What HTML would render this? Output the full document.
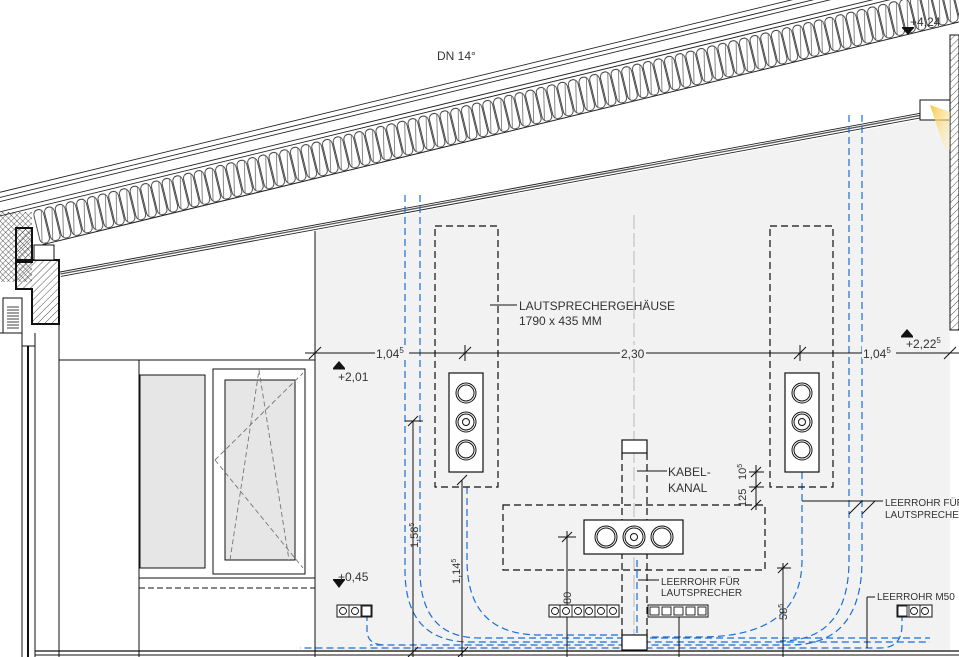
<!DOCTYPE html>
<html><head><meta charset="utf-8"><style>
html,body{margin:0;padding:0;background:#fff;}
svg{display:block;}
text{font-family:"Liberation Sans",sans-serif;fill:#333;}
</style></head><body>
<svg width="959" height="657" viewBox="0 0 959 657" xmlns="http://www.w3.org/2000/svg">
<defs>
<pattern id="ins" width="11" height="36" patternUnits="userSpaceOnUse">
<rect x="0.6" y="0.8" width="9.8" height="34.4" rx="4.9" fill="none" stroke="#222" stroke-width="0.8"/>
<line x1="2" y1="34" x2="9" y2="2" stroke="#555" stroke-width="0.7"/>
</pattern>
<pattern id="hat" width="5" height="5" patternUnits="userSpaceOnUse" patternTransform="rotate(45)">
<line x1="0" y1="0" x2="0" y2="5" stroke="#222" stroke-width="0.8"/>
</pattern>
<pattern id="cross" width="4" height="4" patternUnits="userSpaceOnUse" patternTransform="rotate(45)">
<path d="M0,0V4M0,0H4" stroke="#222" stroke-width="0.7"/>
</pattern>
<linearGradient id="lg" x1="0" y1="0" x2="1" y2="1"><stop offset="0" stop-color="#f7c843"/><stop offset="1" stop-color="#fff3c8" stop-opacity="0.3"/></linearGradient>
</defs>

<polygon points="315,231 930,118 950,114 950,652 315,652" fill="#f2f2f2"/>

<g transform="translate(0,218) rotate(-13.66)">
<line x1="-10" y1="-25" x2="1100" y2="-25" stroke="#222" stroke-width="0.9"/>
<line x1="-10" y1="-20" x2="1100" y2="-20" stroke="#222" stroke-width="0.9"/>
<line x1="-10" y1="-16" x2="1100" y2="-16" stroke="#222" stroke-width="0.9"/>
<line x1="-10" y1="-6" x2="1100" y2="-6" stroke="#222" stroke-width="0.9"/>
<line x1="-10" y1="-2" x2="1100" y2="-2" stroke="#222" stroke-width="0.9"/>
<rect x="33" y="0" width="1000" height="36" fill="url(#ins)"/>
<line x1="33" y1="36" x2="1100" y2="36" stroke="#222" stroke-width="1"/>
</g>
<g transform="translate(60,272) rotate(-10.45)">
<line x1="0" y1="0" x2="885" y2="0" stroke="#222" stroke-width="0.9"/>
<line x1="0" y1="2" x2="885" y2="2" stroke="#555" stroke-width="1.3"/>
<line x1="0" y1="4.5" x2="885" y2="4.5" stroke="#222" stroke-width="0.9"/>
</g>

<rect x="0" y="212" width="32" height="70" fill="url(#cross)"/>
<polygon points="16,228 32,228 32,262 16,262" fill="url(#hat)" stroke="#111" stroke-width="2"/>
<polygon points="16,260 59,260 59,324 32,324 32,289 16,289" fill="url(#hat)" stroke="#111" stroke-width="2"/>
<rect x="34" y="245" width="20" height="15" fill="#fff" stroke="#111" stroke-width="1"/>
<rect x="3" y="298" width="19" height="35" fill="#fff" stroke="#111" stroke-width="1"/>
<g stroke="#111" stroke-width="0.8"><line x1="7" y1="307" x2="19" y2="307"/><line x1="7" y1="310" x2="19" y2="310"/><line x1="7" y1="313" x2="19" y2="313"/><line x1="7" y1="316" x2="19" y2="316"/><line x1="7" y1="319" x2="19" y2="319"/><line x1="7" y1="322" x2="19" y2="322"/><line x1="7" y1="325" x2="19" y2="325"/><line x1="7" y1="328" x2="19" y2="328"/></g>
<g stroke="#111" stroke-width="1" fill="none">
<line x1="0" y1="333" x2="22" y2="333"/>
<line x1="22" y1="333" x2="22" y2="657"/>
<line x1="35" y1="333" x2="35" y2="657"/>
<line x1="22" y1="346" x2="35" y2="346"/>
<line x1="59" y1="324" x2="59" y2="657"/>
<line x1="28" y1="346" x2="28" y2="657" stroke-width="2"/>
<line x1="59" y1="360" x2="315" y2="360"/>
<line x1="315" y1="231" x2="315" y2="657"/>
<line x1="139" y1="360" x2="139" y2="657"/>
<line x1="139" y1="578" x2="315" y2="578"/>
<line x1="139" y1="588" x2="315" y2="588" stroke-dasharray="6,3"/>
</g>
<rect x="140" y="375" width="65" height="193" fill="#e6e6e6" stroke="#111" stroke-width="1"/>
<rect x="213" y="369" width="92" height="205" fill="#fff" stroke="#111" stroke-width="1"/>
<rect x="225" y="380" width="70" height="180" fill="#e6e6e6" stroke="#111" stroke-width="1"/>
<g stroke="#777" stroke-width="0.9" stroke-dasharray="5,3" fill="none">
<polyline points="230,560 259,370 289,560"/>
<polyline points="215,460 303,373"/>
<polyline points="215,460 303,568"/>
</g>

<rect x="950" y="35" width="9" height="295" fill="url(#hat)" stroke="#111" stroke-width="1"/>
<rect x="920" y="100" width="30" height="20" fill="#fff" stroke="#111" stroke-width="1"/>
<polygon points="930,105 950,112 950,150 945,150" fill="url(#lg)"/>

<g stroke="#1a6fd6" stroke-width="1.2" fill="none" stroke-dasharray="7,4">
<path d="M405,195 V570 Q405,642 470,642 H930"/>
<path d="M420,195 V570 Q420,638 480,638 H930"/>
<path d="M467,487 V560 Q467,635 540,635 H620"/>
<path d="M849,115 V560 Q849,641 780,641"/>
<path d="M862,115 V560 Q862,645 790,645 H370"/>
<path d="M802,472 V560 Q802,637 700,637 H640"/>
<path d="M637,560 V650"/>
<path d="M367,614 V630 Q367,645 385,645"/>
<path d="M902,614 V625 Q902,648 880,648 H300"/>
</g>
<line x1="634" y1="215" x2="634" y2="650" stroke="#bbb" stroke-width="1" stroke-dasharray="14,4"/>

<g stroke="#111" stroke-width="1">
<line x1="305" y1="353" x2="959" y2="353"/>
<line x1="309" y1="359" x2="321" y2="347"/><line x1="459" y1="359" x2="471" y2="347"/>
<line x1="794" y1="359" x2="806" y2="347"/><line x1="944" y1="359" x2="956" y2="347"/>
<line x1="465" y1="345" x2="465" y2="361"/><line x1="800" y1="345" x2="800" y2="361"/>
</g>
<g font-size="12">
<rect x="375" y="345" width="34" height="14" fill="#f2f2f2"/><text x="376" y="358">1,04<tspan font-size="8" dy="-5">5</tspan></text>
<rect x="620" y="345" width="26" height="14" fill="#f2f2f2"/><text x="621" y="358">2,30</text>
<rect x="862" y="345" width="34" height="14" fill="#f2f2f2"/><text x="863" y="358">1,04<tspan font-size="8" dy="-5">5</tspan></text>
</g>

<g stroke="#111" stroke-width="1.2" fill="none" stroke-dasharray="7,4">
<rect x="435" y="226" width="63" height="261"/>
<rect x="770" y="226" width="63" height="261"/>
<rect x="503" y="505" width="262" height="65"/>
<path d="M622,453 V650 M647,453 V650"/>
</g>
<g stroke="#111" stroke-width="1.2" fill="#fff">
<rect x="449" y="373" width="34" height="99"/>
<rect x="785" y="373" width="34" height="99"/>
<rect x="584" y="520" width="99" height="34"/>
<rect x="622" y="440" width="25" height="13"/>
<rect x="622" y="635" width="25" height="15"/>
</g>
<g stroke="#111" stroke-width="1" fill="none">
<circle cx="466" cy="393" r="10"/><circle cx="466" cy="393" r="8"/>
<circle cx="466" cy="422" r="10"/><circle cx="466" cy="422" r="8"/><circle cx="466" cy="422" r="3.5"/>
<circle cx="466" cy="450" r="10"/><circle cx="466" cy="450" r="8"/>
<circle cx="802" cy="393" r="10"/><circle cx="802" cy="393" r="8"/>
<circle cx="802" cy="422" r="10"/><circle cx="802" cy="422" r="8"/><circle cx="802" cy="422" r="3.5"/>
<circle cx="802" cy="450" r="10"/><circle cx="802" cy="450" r="8"/>
<circle cx="606" cy="537" r="11"/><circle cx="606" cy="537" r="9"/>
<circle cx="634" cy="537" r="11"/><circle cx="634" cy="537" r="9"/><circle cx="634" cy="537" r="3.5"/>
<circle cx="662" cy="537" r="11"/><circle cx="662" cy="537" r="9"/>
</g>

<g stroke="#111" stroke-width="1">
<line x1="413" y1="421" x2="413" y2="657"/><line x1="405" y1="421" x2="423" y2="421"/><line x1="408" y1="426" x2="418" y2="416"/>
<line x1="458" y1="657" x2="468" y2="647"/><line x1="408" y1="657" x2="418" y2="647"/>
<line x1="462" y1="480" x2="462" y2="657"/><line x1="457" y1="485" x2="467" y2="475"/>
<line x1="567" y1="531" x2="567" y2="657"/><line x1="558" y1="537" x2="576" y2="537"/><line x1="562" y1="542" x2="572" y2="532"/>
<line x1="783" y1="563" x2="783" y2="657"/><line x1="777" y1="568" x2="791" y2="568"/><line x1="778" y1="573" x2="788" y2="563"/>
<line x1="756" y1="465" x2="756" y2="510"/><line x1="749" y1="472" x2="764" y2="472"/><line x1="749" y1="487" x2="764" y2="487"/>
<line x1="751" y1="477" x2="761" y2="467"/><line x1="751" y1="492" x2="761" y2="482"/><line x1="751" y1="510" x2="761" y2="500"/>
<line x1="679" y1="605" x2="679" y2="657"/>
<line x1="637" y1="471" x2="667" y2="471" /><line x1="638" y1="580" x2="659" y2="580"/>
<line x1="802" y1="501" x2="883" y2="501"/><line x1="849" y1="514" x2="862" y2="501"/><line x1="862" y1="514" x2="875" y2="501"/>
<line x1="867" y1="597" x2="875" y2="597"/><line x1="867" y1="597" x2="867" y2="648"/>
<line x1="490" y1="305" x2="517" y2="305"/>
</g>
<g font-size="11">
<text transform="translate(418,548) rotate(-90)">1,58<tspan font-size="7" dy="-4">5</tspan></text>
<text transform="translate(460,584) rotate(-90)">1,14<tspan font-size="7" dy="-4">5</tspan></text>
<text transform="translate(571,604) rotate(-90)">80</text>
<text transform="translate(787,620) rotate(-90)">58<tspan font-size="7" dy="-4">5</tspan></text>
<text transform="translate(746,480) rotate(-90)">10<tspan font-size="7" dy="-4">5</tspan></text>
<text transform="translate(746,507) rotate(-90)">125</text>
</g>

<g stroke="#111" stroke-width="1" fill="#fff">
<rect x="337" y="605" width="35" height="12"/>
<rect x="549" y="605" width="70" height="12"/>
<rect x="648" y="605" width="60" height="12"/>
<rect x="897" y="605" width="35" height="12"/>
</g>
<g stroke="#111" stroke-width="0.9" fill="none">
<circle cx="343" cy="611" r="3.5"/><circle cx="355" cy="611" r="3.5"/><rect x="362" y="606" width="9" height="10"/>
<line x1="349" y1="605" x2="349" y2="617"/><line x1="361" y1="605" x2="361" y2="617"/>
<circle cx="555" cy="611" r="3.5"/><circle cx="566" cy="611" r="3.5"/><circle cx="578" cy="611" r="3.5"/><circle cx="589" cy="611" r="3.5"/><circle cx="601" cy="611" r="3.5"/><circle cx="613" cy="611" r="3.5"/>
<line x1="560" y1="605" x2="560" y2="617"/><line x1="572" y1="605" x2="572" y2="617"/><line x1="584" y1="605" x2="584" y2="617"/><line x1="595" y1="605" x2="595" y2="617"/><line x1="607" y1="605" x2="607" y2="617"/>
<rect x="650" y="607" width="9" height="8"/><rect x="662" y="607" width="9" height="8"/><rect x="674" y="607" width="9" height="8"/><rect x="686" y="607" width="9" height="8"/><rect x="698" y="607" width="8" height="8"/>
<rect x="898" y="606" width="9" height="10"/><circle cx="914" cy="611" r="3.5"/><circle cx="925" cy="611" r="3.5"/>
<line x1="909" y1="605" x2="909" y2="617"/><line x1="920" y1="605" x2="920" y2="617"/>
</g>

<line x1="35" y1="651" x2="959" y2="651" stroke="#111" stroke-width="1.3"/>
<line x1="35" y1="655" x2="959" y2="655" stroke="#111" stroke-width="1"/>

<g fill="#111">
<polygon points="333,368 345,368 339,361"/><rect x="333" y="368" width="12" height="1.5"/>
<polygon points="333,580 345,580 339,588"/><rect x="333" y="579" width="12" height="1.5"/>
<polygon points="901,336 913,336 907,329"/><rect x="901" y="336" width="12" height="1.5"/>
<polygon points="902,28 914,28 908,35"/><rect x="902" y="27" width="12" height="1.5"/>
</g>
<g font-size="12">
<text x="338" y="381">+2,01</text>
<text x="338" y="581">+0,45</text>
<text x="906" y="348">+2,22<tspan font-size="8" dy="-5">5</tspan></text>
<text x="910" y="26">+4,24</text>
<text x="437" y="60">DN 14°</text>
<text x="519" y="310">LAUTSPRECHERGEHÄUSE</text>
<text x="519" y="325">1790 x 435 MM</text>
<text x="668" y="476">KABEL-</text>
<text x="668" y="492">KANAL</text>
</g>
<g font-size="10">
<text x="885" y="506">LEERROHR FÜR</text>
<text x="885" y="518">LAUTSPRECHER</text>
<text x="661" y="585">LEERROHR FÜR</text>
<text x="661" y="596">LAUTSPRECHER</text>
<text x="877" y="600">LEERROHR M50</text>
</g>
</svg>
</body></html>
